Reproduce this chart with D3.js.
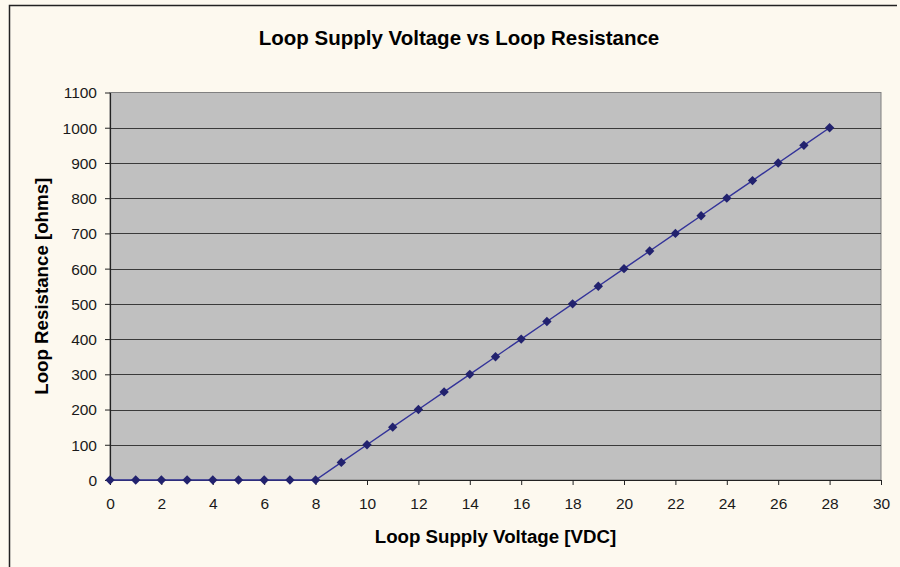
<!DOCTYPE html>
<html><head><meta charset="utf-8">
<script src="https://cdn.jsdelivr.net/npm/d3@7"></script>
<style>html,body{margin:0;padding:0;background:#fdf9ef;}svg{display:block;font-family:"Liberation Sans",Arial,sans-serif;}</style>
</head><body>
<svg id="chart" width="900" height="567"></svg>
<script>
const titleText = "Loop Supply Voltage vs Loop Resistance";
const xLabel = "Loop Supply Voltage [VDC]";
const yLabel = "Loop Resistance [ohms]";
const voltages = [0,1,2,3,4,5,6,7,8,9,10,11,12,13,14,15,16,17,18,19,20,21,22,23,24,25,26,27,28];
const resistances = [0,0,0,0,0,0,0,0,0,50,100,150,200,250,300,350,400,450,500,550,600,650,700,750,800,850,900,950,1000];
const xTicks = [0,2,4,6,8,10,12,14,16,18,20,22,24,26,28,30];
const yTicks = [0,100,200,300,400,500,600,700,800,900,1000,1100];

const svg = d3.select("#chart");
const W = 900, H = 567;
svg.append("rect").attr("width",W).attr("height",H).attr("fill","#fdf9ef");
svg.append("path").attr("d","M9.5,567 V5.5 H897").attr("fill","none").attr("stroke","#222").attr("stroke-width",1.5);

const m = {l:110, t:92.5, r:881, b:480};
const x = d3.scaleLinear().domain([0,30]).range([m.l, m.r]);
const y = d3.scaleLinear().domain([0,1100]).range([m.b, m.t]);

svg.append("rect").attr("x",m.l).attr("y",m.t).attr("width",m.r-m.l).attr("height",m.b-m.t)
  .attr("fill","#c0c0c0").attr("stroke","#808080").attr("stroke-width",1);

svg.append("g").selectAll("line").data(yTicks.filter(d=>d>0 && d<1100)).join("line")
  .attr("x1",m.l).attr("x2",m.r).attr("y1",d=>Math.round(y(d))+0.5).attr("y2",d=>Math.round(y(d))+0.5)
  .attr("stroke","#3a3a3a").attr("stroke-width",1);

const xAxis = svg.append("g").attr("transform",`translate(0,${m.b})`)
  .call(d3.axisBottom(x).tickValues(xTicks).tickFormat(d3.format("d")).tickSize(5).tickSizeOuter(0).tickPadding(13));
const yAxis = svg.append("g").attr("transform",`translate(${m.l},0)`)
  .call(d3.axisLeft(y).tickValues(yTicks).tickFormat(d3.format("d")).tickSize(5).tickSizeOuter(0).tickPadding(8));
[xAxis,yAxis].forEach(g=>{
  g.attr("font-size",null).attr("font-family",null);
  g.select(".domain").attr("stroke","#222").attr("stroke-width",1.2);
  g.selectAll(".tick line").attr("stroke","#222");
  g.selectAll(".tick text").attr("fill","#1a1a1a").style("font-size","15.5px").style("font-family","'Liberation Sans',Arial,sans-serif");
});
yAxis.selectAll(".tick text").attr("dy","0.35em");

const pts = voltages.map((v,i)=>[v,resistances[i]]);
svg.append("path").datum(pts)
  .attr("d",d3.line().x(d=>x(d[0])).y(d=>y(d[1])))
  .attr("fill","none").attr("stroke","#333399").attr("stroke-width",1.4);
svg.append("g").selectAll("path").data(pts).join("path")
  .attr("d",d3.symbol(d3.symbolSquare, 44))
  .attr("transform",d=>`translate(${x(d[0])},${y(d[1])}) rotate(45)`)
  .attr("fill","#22226e");

svg.append("text").attr("x",459).attr("y",45).attr("text-anchor","middle")
  .style("font-size","20.5px").style("font-weight","bold").attr("fill","#000").text(titleText);
svg.append("text").attr("x",495.5).attr("y",543).attr("text-anchor","middle")
  .style("font-size","18.7px").style("font-weight","bold").attr("fill","#000").text(xLabel);
svg.append("text").attr("transform",`translate(48,${(m.t+m.b)/2}) rotate(-90)`).attr("text-anchor","middle")
  .style("font-size","18.7px").style("font-weight","bold").attr("fill","#000").text(yLabel);
</script>
</body></html>
